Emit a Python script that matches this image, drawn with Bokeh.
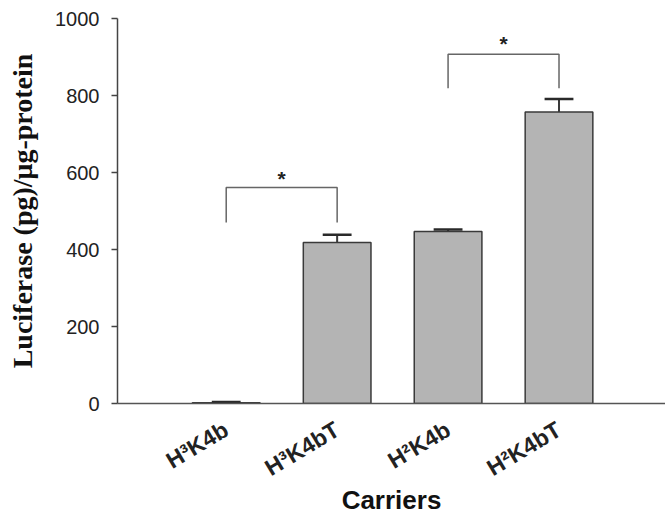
import math
from bokeh.plotting import figure
from bokeh.models import Range1d, FixedTicker, ColumnDataSource
from bokeh.core.properties import value
from bokeh.embed import file_html
from bokeh.resources import INLINE

carriers = ["H³K4b", "H³K4bT", "H²K4b", "H²K4bT"]
luciferase = [2, 418, 447, 757]
errors = [2, 20, 5, 34]
y_ticks = [0, 200, 400, 600, 800, 1000]

# significance brackets: (left bar index, right bar index), bracket top, leg bottom
sig_pairs = [(1, 2), (3, 4)]
sig_top = [561, 907]
sig_leg_bottom = [470, 819]
sig_star_y = [584, 935]
sig_label = ["*", "*"]

xs = [1, 2, 3, 4]

p = figure(width=665, height=517, output_backend="svg", toolbar_location=None,
           x_range=Range1d(0.02, 4.96), y_range=Range1d(0, 1000),
           min_border_left=117, min_border_right=0, min_border_top=18, min_border_bottom=112)
p.outline_line_color = None
p.grid.grid_line_color = None
p.background_fill_color = "white"

src = ColumnDataSource(dict(x=xs, top=luciferase, err=[v + e for v, e in zip(luciferase, errors)]))
p.vbar(x="x", top="top", bottom=0, width=0.61, source=src,
       fill_color="#b4b4b4", line_color="#3a3a3a", line_width=1.5)
p.segment(x0="x", y0="top", x1="x", y1="err", source=src, line_color="#3a3a3a", line_width=2)
cap = 0.13
p.segment(x0=[x - cap for x in xs], y0=src.data["err"], x1=[x + cap for x in xs], y1=src.data["err"],
          line_color="#2a2a2a", line_width=2.5)

for (a, b), top, leg, sy, lab in zip(sig_pairs, sig_top, sig_leg_bottom, sig_star_y, sig_label):
    p.line(x=[a, a, b, b], y=[leg, top, top, leg], line_color="#666666", line_width=1.5)
    p.text(x=[(a + b) / 2], y=[sy], text=[lab], text_align="center", text_baseline="middle",
           text_font=value("Liberation Sans"), text_font_style="bold", text_font_size="21px",
           text_color="#222222")

# axes
p.yaxis.ticker = FixedTicker(ticks=y_ticks)
p.yaxis.minor_tick_line_color = None
p.yaxis.major_tick_out = 6
p.yaxis.major_tick_in = 0
p.yaxis.major_label_standoff = 12
p.yaxis.major_label_text_font = "Liberation Sans"
p.yaxis.major_label_text_font_size = "20px"
p.yaxis.major_label_text_color = "#222222"
p.yaxis.axis_line_color = "#444444"
p.yaxis.axis_line_width = 1.5
p.yaxis.major_tick_line_color = "#444444"
p.yaxis.major_tick_line_width = 1.5
p.yaxis.axis_label = "Luciferase (pg)/μg-protein"
p.yaxis.axis_label_text_font = "Liberation Serif"
p.yaxis.axis_label_text_font_style = "bold"
p.yaxis.axis_label_text_font_size = "28px"
p.yaxis.axis_label_text_color = "#111111"
p.yaxis.axis_label_standoff = 14

p.xaxis.ticker = FixedTicker(ticks=xs)
p.xaxis.major_label_overrides = {x: c for x, c in zip(xs, carriers)}
p.xaxis.major_label_orientation = 0.54
p.xaxis.major_tick_line_color = None
p.xaxis.minor_tick_line_color = None
p.xaxis.major_label_standoff = 18
p.xaxis.major_label_text_font = "Liberation Sans"
p.xaxis.major_label_text_font_style = "bold"
p.xaxis.major_label_text_font_size = "23px"
p.xaxis.major_label_text_color = "#222222"
p.xaxis.axis_line_color = "#555555"
p.xaxis.axis_line_width = 1.5
p.xaxis.axis_label = "Carriers"
p.xaxis.axis_label_text_font = "Liberation Sans"
p.xaxis.axis_label_text_font_style = "bold"
p.xaxis.axis_label_text_font_size = "26px"
p.xaxis.axis_label_text_color = "#111111"
p.xaxis.axis_label_standoff = -10

open("out.html", "w").write(file_html(p, INLINE))
